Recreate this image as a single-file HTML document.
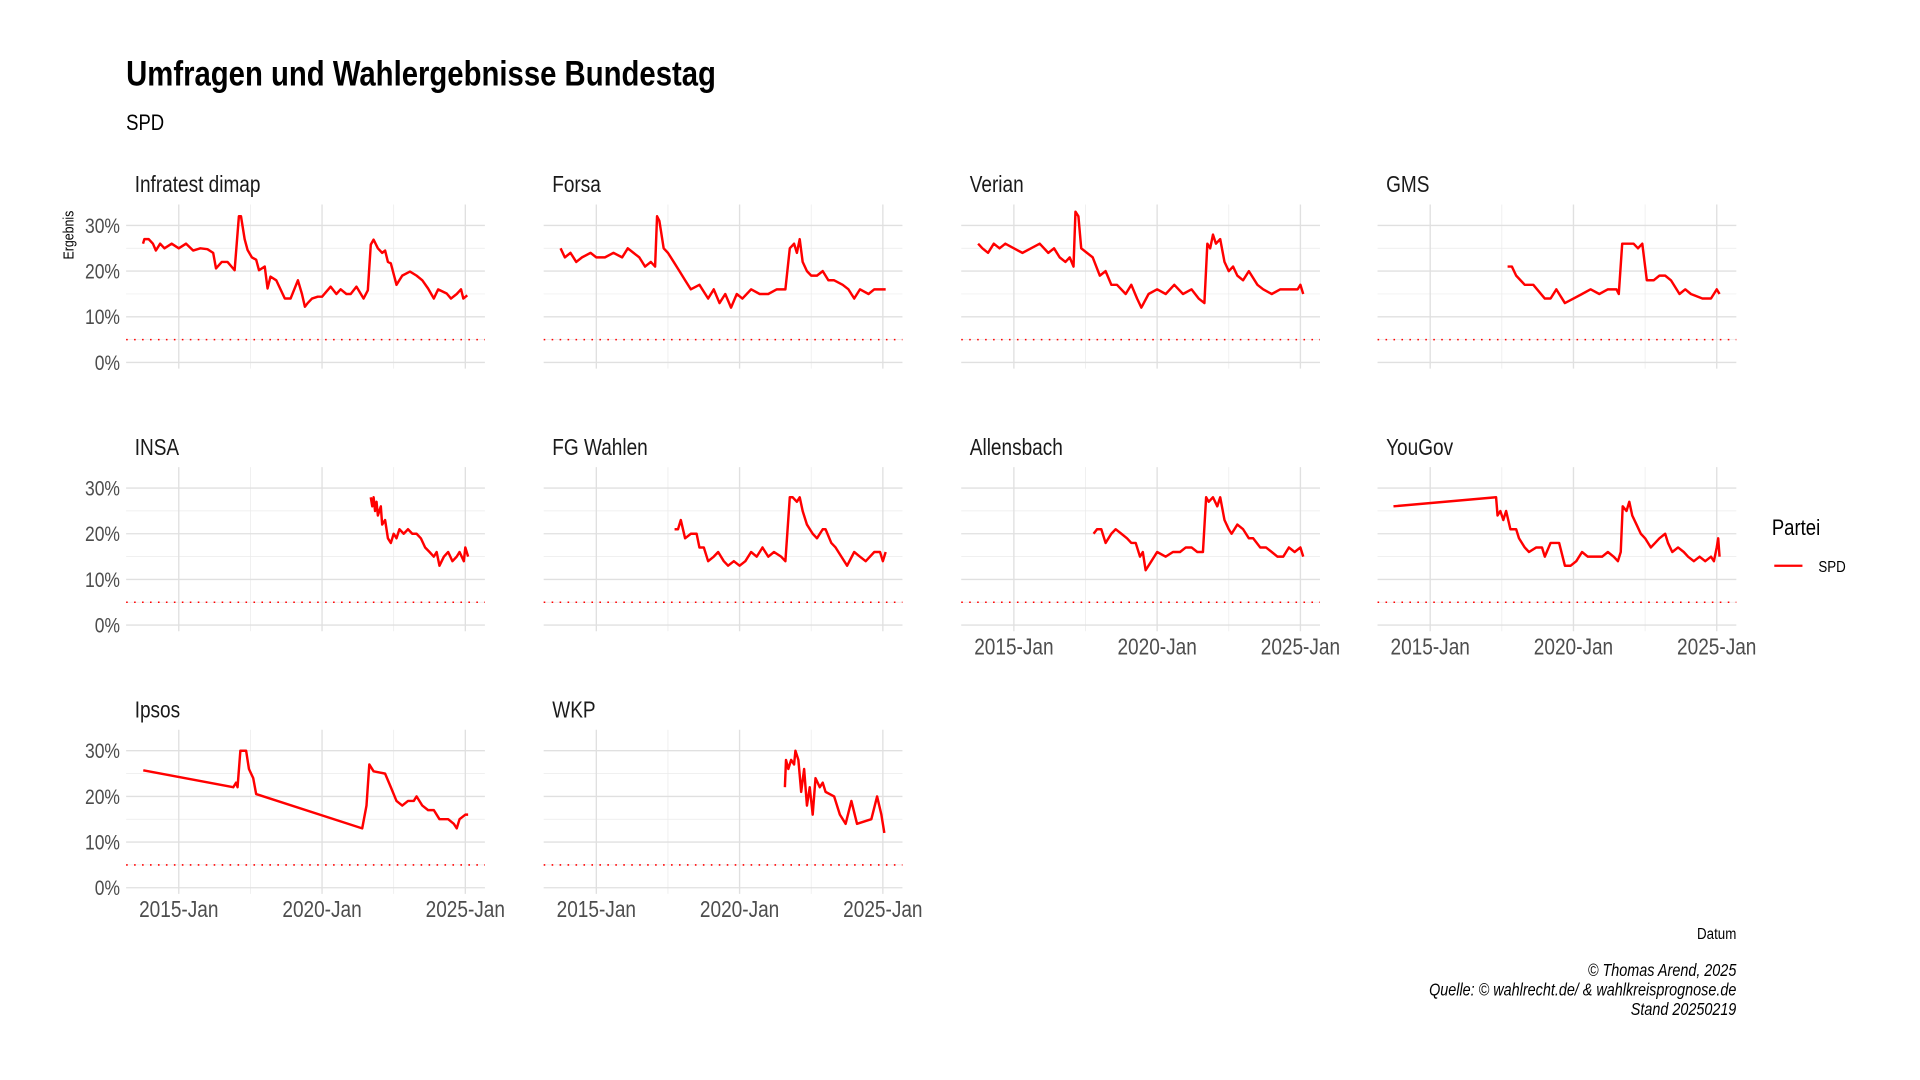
<!DOCTYPE html>
<html><head><meta charset="utf-8">
<style>
html,body{margin:0;padding:0;background:#fff;}
svg{display:block;}
text{font-family:"Liberation Sans Narrow","Liberation Sans",sans-serif;}
</style></head>
<body>
<svg id="chart" width="1920" height="1080" viewBox="0 0 1568 882" preserveAspectRatio="none" xmlns="http://www.w3.org/2000/svg">
<rect width="1568" height="882" fill="#fff"/>
<text x="103" y="70" font-size="28.5" font-weight="bold" fill="#000">Umfragen und Wahlergebnisse Bundestag</text>
<text x="103" y="106" font-size="18" fill="#000">SPD</text>
<text transform="translate(60,192) rotate(-90)" text-anchor="middle" font-size="12" fill="#000">Ergebnis</text>
<text x="1447" y="437" font-size="18" fill="#000">Partei</text>
<line x1="1449" y1="462" x2="1472" y2="462" stroke="#ff0000" stroke-width="1.8"/>
<text x="1485" y="467" font-size="13" fill="#000">SPD</text>
<text x="1418" y="767" font-size="13" text-anchor="end" fill="#000">Datum</text>
<g font-size="14" font-style="italic" text-anchor="end" fill="#000">
<text x="1418" y="797">© Thomas Arend, 2025</text>
<text x="1418" y="813">Quelle: © wahlrecht.de/ &amp; wahlkreisprognose.de</text>
<text x="1418" y="829">Stand 20250219</text>
</g>
<g id="panels"></g>
</svg>
<script>
const pollsters = ["Infratest dimap","Forsa","Verian","GMS","INSA","FG Wahlen","Allensbach","YouGov","Ipsos","WKP"];
const yTicks = [0,10,20,30];
const yTickLabels = ["0%","10%","20%","30%"];
const xTicks = [2015,2020,2025];
const xTickLabels = ["2015-Jan","2020-Jan","2025-Jan"];
const threshold = 5;

const infratestYears = [2013.75,2013.8,2013.95,2014.1,2014.2,2014.35,2014.5,2014.75,2015.0,2015.25,2015.5,2015.75,2016.0,2016.2,2016.3,2016.5,2016.7,2016.95,2017.1,2017.17,2017.3,2017.4,2017.55,2017.7,2017.8,2018.0,2018.1,2018.2,2018.4,2018.7,2018.9,2019.16,2019.3,2019.4,2019.5,2019.65,2019.85,2020.0,2020.3,2020.5,2020.65,2020.85,2021.0,2021.2,2021.45,2021.6,2021.7,2021.8,2021.95,2022.1,2022.2,2022.3,2022.4,2022.6,2022.8,2023.07,2023.3,2023.5,2023.7,2023.9,2024.05,2024.35,2024.5,2024.7,2024.85,2024.93,2025.07];
const infratestValues = [26,27,27,26,24.5,26,25,26,25,26,24.5,25,24.8,24,20.6,22,22,20.2,32,32,27,24.6,23,22.5,20.2,21,16.2,18.8,18,14,14,18,15,12.2,13,14,14.4,14.4,16.6,15,16,15,15,16.6,14,15.8,25.8,26.9,25,24,24.5,22,21.7,17,19,19.9,19,18,16.2,14,16,15.1,14,15,16,14,14.7];

const forsaYears = [2013.75,2013.9,2014.1,2014.3,2014.5,2014.8,2015.0,2015.3,2015.6,2015.9,2016.1,2016.3,2016.5,2016.7,2016.9,2017.05,2017.12,2017.2,2017.35,2017.5,2017.7,2017.9,2018.1,2018.3,2018.6,2018.9,2019.1,2019.3,2019.5,2019.7,2019.9,2020.1,2020.4,2020.7,2021.0,2021.3,2021.6,2021.75,2021.9,2022.0,2022.1,2022.2,2022.35,2022.5,2022.7,2022.9,2023.1,2023.3,2023.6,2023.8,2024.0,2024.2,2024.5,2024.7,2024.9,2025.1];
const forsaValues = [25,23,24,22,23,24,23,23,24,23,25,24,23,21,22,21,32,31,25,24,22,20,18,16,17,14,16,13,15,12,15,14,16,15,15,16,16,25,26,24,27,22,20,19,19,20,18,18,17,16,14,16,15,16,16,16];

const verianYears = [2013.75,2013.9,2014.1,2014.3,2014.5,2014.7,2015.0,2015.3,2015.6,2015.9,2016.2,2016.4,2016.6,2016.8,2016.95,2017.08,2017.15,2017.25,2017.35,2017.55,2017.75,2018.0,2018.2,2018.4,2018.6,2018.9,2019.1,2019.3,2019.45,2019.7,2020.0,2020.3,2020.6,2020.9,2021.2,2021.45,2021.65,2021.75,2021.85,2021.95,2022.05,2022.2,2022.35,2022.5,2022.65,2022.8,2023.0,2023.2,2023.5,2023.7,2024.0,2024.3,2024.6,2024.9,2025.0,2025.1];
const verianValues = [26,25,24,26,25,26,25,24,25,26,24,25,23,22,23,21,33,32,25,24,23,19,20,17,17,15,17,14,12,15,16,15,17,15,16,14,13,26,25,28,26,27,22,20,21,19,18,20,17,16,15,16,16,16,17,15];

const gmsYears = [2017.7,2017.85,2018.0,2018.3,2018.6,2019.0,2019.2,2019.4,2019.7,2020.0,2020.3,2020.6,2020.9,2021.2,2021.5,2021.58,2021.7,2021.9,2022.1,2022.25,2022.4,2022.56,2022.8,2023.0,2023.2,2023.4,2023.7,2023.9,2024.1,2024.5,2024.8,2025.0,2025.1];
const gmsValues = [21,21,19,17,17,14,14,16,13,14,15,16,15,16,16,15,26,26,26,25,26,18,18,19,19,18,15,16,15,14,14,16,15];

const insaYears = [2021.7,2021.75,2021.8,2021.85,2021.9,2021.95,2022.05,2022.1,2022.2,2022.3,2022.4,2022.5,2022.6,2022.7,2022.85,2023.0,2023.15,2023.3,2023.45,2023.6,2023.75,2023.9,2024.0,2024.1,2024.25,2024.4,2024.55,2024.7,2024.8,2024.95,2025.0,2025.1];
const insaValues = [28,26,28,25,27,24,26,22,23,19,18,20,19,21,20,21,20,20,19,17,16,15,16,13,15,16,14,15,16,14,17,15];

const fgYears = [2017.73,2017.85,2017.95,2018.1,2018.3,2018.5,2018.6,2018.75,2018.9,2019.1,2019.25,2019.45,2019.6,2019.8,2020.0,2020.2,2020.4,2020.6,2020.8,2021.0,2021.2,2021.45,2021.6,2021.75,2021.85,2022.0,2022.1,2022.2,2022.35,2022.55,2022.7,2022.9,2023.0,2023.2,2023.35,2023.55,2023.75,2024.0,2024.2,2024.4,2024.7,2024.9,2025.0,2025.1];
const fgValues = [21,21,23,19,20,20,17,17,14,15,16,14,13,14,13,14,16,15,17,15,16,15,14,28,28,27,28,25,22,20,19,21,21,18,17,15,13,16,15,14,16,16,14,16];

const allensbachYears = [2017.78,2017.9,2018.05,2018.2,2018.4,2018.55,2018.75,2018.95,2019.1,2019.25,2019.4,2019.5,2019.6,2019.8,2020.0,2020.3,2020.55,2020.8,2021.0,2021.2,2021.4,2021.6,2021.71,2021.8,2021.95,2022.1,2022.2,2022.35,2022.5,2022.6,2022.8,2023.0,2023.2,2023.35,2023.6,2023.8,2024.0,2024.2,2024.4,2024.6,2024.8,2025.0,2025.1];
const allensbachValues = [20,21,21,18,20,21,20,19,18,18,15,16,12,14,16,15,16,16,17,17,16,16,28,27,28,26,28,23,21,20,22,21,19,19,17,17,16,15,15,17,16,17,15];

const yougovYears = [2013.72,2017.3,2017.35,2017.45,2017.55,2017.65,2017.8,2018.0,2018.1,2018.3,2018.45,2018.7,2018.9,2019.0,2019.2,2019.5,2019.7,2019.9,2020.1,2020.3,2020.5,2020.8,2021.0,2021.2,2021.4,2021.55,2021.65,2021.72,2021.85,2021.95,2022.05,2022.2,2022.35,2022.5,2022.7,2022.85,2023.0,2023.2,2023.3,2023.45,2023.65,2023.85,2024.0,2024.2,2024.4,2024.6,2024.8,2024.9,2025.0,2025.05,2025.1];
const yougovValues = [26,28,24,25,23,25,21,21,19,17,16,17,17,15,18,18,13,13,14,16,15,15,15,16,15,14,16,26,25,27,24,22,20,19,17,18,19,20,18,16,17,16,15,14,15,14,15,14,17,19,15];

const ipsosYears = [2013.76,2016.9,2017.0,2017.05,2017.15,2017.35,2017.45,2017.6,2017.7,2021.4,2021.55,2021.65,2021.8,2022.2,2022.4,2022.6,2022.8,2023.0,2023.2,2023.3,2023.5,2023.7,2023.9,2024.1,2024.4,2024.6,2024.7,2024.8,2025.0,2025.1];
const ipsosValues = [25.7,22,23,22,30,30,26,24,20.5,13,18,27,25.5,25,22,19,18,19,19,20,18,17,17,15,15,14,13,15,16,16];

const wkpYears = [2021.58,2021.62,2021.7,2021.8,2021.9,2021.95,2022.05,2022.15,2022.25,2022.35,2022.45,2022.55,2022.65,2022.8,2022.9,2023.0,2023.3,2023.5,2023.7,2023.9,2024.1,2024.6,2024.8,2024.95,2025.05];
const wkpValues = [22,28,26,28,27,30,28,21,26,18,22,16,24,22,23,21,20,16,14,19,14,15,20,16,12];

const allYears = [infratestYears,forsaYears,verianYears,gmsYears,insaYears,fgYears,allensbachYears,yougovYears,ipsosYears,wkpYears];
const allValues = [infratestValues,forsaValues,verianValues,gmsValues,insaValues,fgValues,allensbachValues,yougovValues,ipsosValues,wkpValues];

const NS = "http://www.w3.org/2000/svg";
const root = document.getElementById('panels');
const colX0 = [103,444,785,1125];
const rowY0 = [296,510.5,725];
const pw = 293, pxPerYear = 23.4, pxPerPct = 3.73;
const xDomainStart = 2015 - 43/23.4;
const xScale = (p, yr) => colX0[p % 4] + (yr - xDomainStart) * pxPerYear;
const yScale = (p, v) => rowY0[Math.floor(p / 4)] - v * pxPerPct;
const hasXLabels = [false,false,false,false,false,false,true,true,true,true];

function mk(tag, attrs, parent){
  const e = document.createElementNS(NS, tag);
  for (const k in attrs) e.setAttribute(k, attrs[k]);
  parent.appendChild(e);
  return e;
}

pollsters.forEach((name, p) => {
  const g = mk('g', {}, root);
  
  
  const x0 = colX0[p % 4], x1 = x0 + pw;
  const y0 = rowY0[Math.floor(p / 4)];
  const top = y0 - 129, bot = y0 + 5;
  [5,15,25].forEach(v => {
    const l = mk('line', {x1:x0, x2:x1, y1:yScale(p,v), y2:yScale(p,v), stroke:'#ebebeb', 'stroke-width':0.6}, g);
    
    
  });
  [2017.5,2022.5].forEach(t => {
    const l = mk('line', {x1:xScale(p,t), x2:xScale(p,t), y1:top, y2:bot, stroke:'#ebebeb', 'stroke-width':0.6}, g);
    
    
  });
  yTicks.forEach((v, i) => {
    const l = mk('line', {x1:x0, x2:x1, y1:yScale(p,v), y2:yScale(p,v), stroke:'#e0e0e0', 'stroke-width':1.1}, g);
    
    
    if (p % 4 === 0) {
      const t = mk('text', {x:x0 - 5, y:yScale(p,v) + 6, 'text-anchor':'end', 'font-size':17, fill:'#4d4d4d'}, g);
      t.textContent = yTickLabels[i];
      
      
    }
  });
  xTicks.forEach((yr, i) => {
    const l = mk('line', {x1:xScale(p,yr), x2:xScale(p,yr), y1:top, y2:bot, stroke:'#e0e0e0', 'stroke-width':1.1}, g);
    
    
    if (hasXLabels[p]) {
      const t = mk('text', {x:xScale(p,yr), y:y0 + 24, 'text-anchor':'middle', 'font-size':18.5, fill:'#4d4d4d'}, g);
      t.textContent = xTickLabels[i];
      
      
    }
  });
  const th = mk('line', {x1:x0, x2:x1, y1:yScale(p,threshold), y2:yScale(p,threshold), stroke:'#ff0000', 'stroke-width':1.3, 'stroke-dasharray':'1.3 5.2'}, g);
  
  
  const st = mk('text', {x:x0 + 7, y:y0 - 139, 'font-size':18.5, fill:'#1a1a1a'}, g);
  st.textContent = name;
  
  
  const yrs = allYears[p], vals = allValues[p];
  const d = yrs.map((yr, i) => (i ? 'L' : 'M') + xScale(p, yr).toFixed(1) + ',' + yScale(p, vals[i]).toFixed(1)).join(' ');
  const path = mk('path', {d:d, fill:'none', stroke:'#ff0000', 'stroke-width':2, 'stroke-linejoin':'round'}, g);
  
  
});

// condense text to mimic a narrow font
document.querySelectorAll('#chart text').forEach(t => {
  const w = t.getComputedTextLength();
  if (w > 0) {
    t.setAttribute('textLength', (w * 0.84).toFixed(1));
    t.setAttribute('lengthAdjust', 'spacingAndGlyphs');
  }
});
</script>
</body></html>
